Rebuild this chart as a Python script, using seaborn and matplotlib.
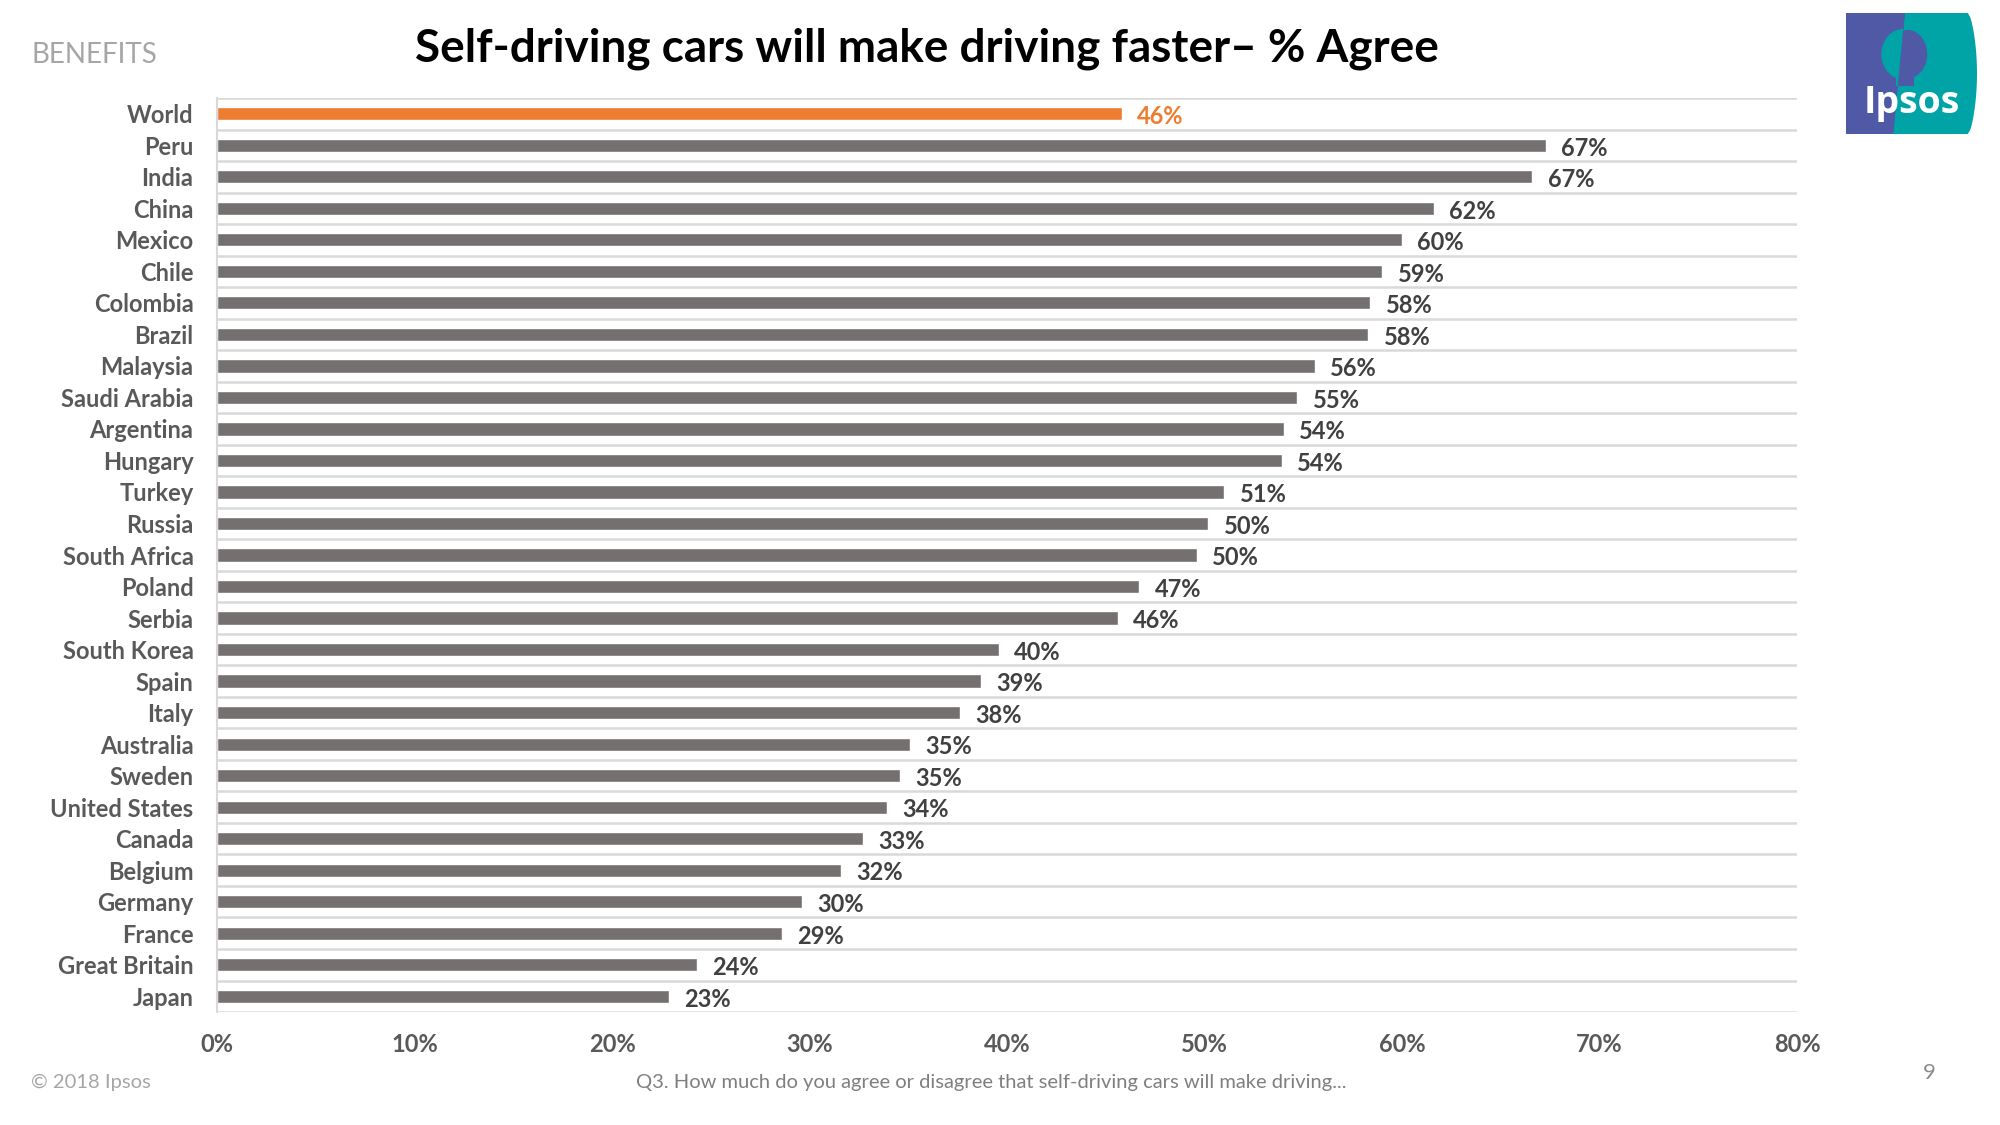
import matplotlib
matplotlib.use("Agg")
import matplotlib.pyplot as plt
import seaborn as sns
import pandas as pd
import numpy as np
from matplotlib.patches import Rectangle, Polygon, Ellipse

countries = ["World", "Peru", "India", "China", "Mexico", "Chile", "Colombia", "Brazil",
             "Malaysia", "Saudi Arabia", "Argentina", "Hungary", "Turkey", "Russia",
             "South Africa", "Poland", "Serbia", "South Korea", "Spain", "Italy",
             "Australia", "Sweden", "United States", "Canada", "Belgium", "Germany",
             "France", "Great Britain", "Japan"]
agree = [45.8, 67.3, 66.6, 61.6, 60.0, 59.0, 58.4, 58.3, 55.6, 54.7, 54.0, 53.9, 51.0,
         50.2, 49.6, 46.7, 45.6, 39.6, 38.7, 37.6, 35.1, 34.6, 33.9, 32.7, 31.6, 29.6,
         28.6, 24.3, 22.9]
x_ticks = [0, 10, 20, 30, 40, 50, 60, 70, 80]

ORANGE = "#ED7D31"
GREY = "#757070"
PURPLE = "#4f59a6"
TEAL = "#00a3a6"

sns.set_theme(style="white")
plt.rcParams["font.family"] = ["Lato", "DejaVu Sans"]

df = pd.DataFrame({"country": countries, "agree": agree,
                   "group": ["World"] + ["Country"] * (len(countries) - 1)})

fig = plt.figure(figsize=(20, 11.25), dpi=100)
ax = fig.add_axes([0.1085, 0.1004, 0.79, 0.8125])

sns.barplot(data=df, y="country", x="agree", hue="group", orient="h",
            palette={"World": ORANGE, "Country": GREY}, width=0.42,
            dodge=False, legend=False, ax=ax, saturation=1)

ax.set_xlim(0, 80)
ax.set_ylim(len(countries) - 0.5, -0.5)
ax.set_xlabel("")
ax.set_ylabel("")
ax.set_xticks(x_ticks)
ax.set_xticklabels([f"{t}%" for t in x_ticks], fontsize=17, fontweight="bold", color="#595959")
ax.set_yticks(range(len(countries)))
ax.set_yticklabels(countries, fontsize=17, fontweight="bold", color="#595959")
ax.tick_params(axis="x", length=0, pad=15)
ax.tick_params(axis="y", length=0, pad=17)

ax.set_yticks(np.arange(-0.5, len(countries), 1.0), minor=True)
ax.tick_params(axis="y", which="minor", length=0)
ax.grid(False)
ax.grid(True, axis="y", which="minor", color="#d9d9d9", linewidth=1.8)
ax.set_axisbelow(True)
for s in ["top", "right", "bottom"]:
    ax.spines[s].set_visible(False)
ax.spines["left"].set_color("#d9d9d9")
ax.spines["left"].set_linewidth(1.5)

for i, (c, v) in enumerate(zip(countries, agree)):
    ax.annotate(f"{v:.0f}%", xy=(v, i), xytext=(11, -2), textcoords="offset points",
                va="center", ha="left", fontsize=17, fontweight="bold",
                color=ORANGE if c == "World" else "#404040")

fig.text(0.4635, 0.957, "Self-driving cars will make driving faster\u2013 % Agree",
         ha="center", va="center", fontsize=33, fontweight="bold", color="black")
fig.text(0.0155, 0.951, "BENEFITS", ha="left", va="center", fontsize=20,
         color="#a6a6a6")
fig.text(0.0155, 0.038, "\u00a9 2018 Ipsos", ha="left", va="center", fontsize=14.5,
         color="#a6a6a6")
fig.text(0.4955, 0.038, "Q3. How much do you agree or disagree that self-driving cars will make driving...",
         ha="center", va="center", fontsize=14.5, color="#7f7f7f")
fig.text(0.9645, 0.046, "9", ha="center", va="center", fontsize=16, color="#8c8c8c")

# Logo
lax = fig.add_axes([1846 / 2000, 1 - 134 / 1125, 131 / 2000, 121 / 1125])
lax.set_xlim(0, 1)
lax.set_ylim(0, 1)
lax.axis("off")
lax.add_patch(Rectangle((0, 0), 0.6, 1, color=PURPLE, lw=0))
t = np.linspace(0, 1, 30)
right_edge = 0.93 + 0.07 * np.sin(np.pi * t) ** 0.6
split_bottom, split_top = 0.36, 0.45
teal_pts = [(split_bottom, 0.0)] + list(zip(right_edge, t)) + [(split_top, 1.0)]
teal_poly = Polygon(teal_pts, closed=True, color=TEAL, lw=0)
lax.add_patch(teal_poly)
purple_left = Polygon([(0, 0), (split_bottom, 0), (split_top, 1), (0, 1)], closed=True,
                      color=PURPLE, lw=0)
lax.add_patch(purple_left)
# tree crown / head silhouette
crown = Ellipse((0.44, 0.66), 0.34, 0.42, color=TEAL, lw=0)
lax.add_patch(crown)
crown.set_clip_path(purple_left)
head = Ellipse((0.47, 0.66), 0.3, 0.4, color=PURPLE, lw=0)
lax.add_patch(head)
head.set_clip_path(teal_poly)
neck = Rectangle((0.38, 0.4), 0.12, 0.1, color=TEAL, lw=0)
lax.add_patch(neck)
neck.set_clip_path(purple_left)
neck2 = Rectangle((0.4, 0.4), 0.12, 0.1, color=PURPLE, lw=0)
lax.add_patch(neck2)
neck2.set_clip_path(teal_poly)
lax.text(0.5, 0.26, "Ipsos", ha="center", va="center", fontsize=27,
         fontweight="bold", color="white", family=["Open Sans", "DejaVu Sans"])

fig.savefig("out.png", dpi=100)
